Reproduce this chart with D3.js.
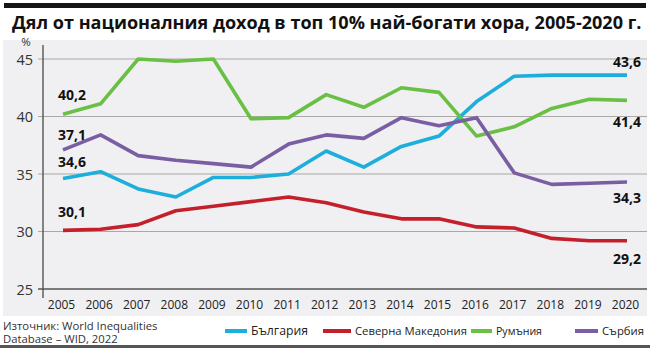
<!DOCTYPE html>
<html><head><meta charset="utf-8">
<script src="https://cdn.jsdelivr.net/npm/d3@7/dist/d3.min.js"></script>
<style>
html,body{margin:0;padding:0;background:#fff;}
svg{display:block;font-family:"Open Sans","Noto Sans",sans-serif;}
</style></head>
<body>
<svg id="c" width="650" height="349"></svg>
<script>
const years = [2005,2006,2007,2008,2009,2010,2011,2012,2013,2014,2015,2016,2017,2018,2019,2020];
const bulgaria  = [34.6,35.2,33.7,33.0,34.7,34.7,35.0,37.0,35.6,37.4,38.3,41.3,43.5,43.6,43.6,43.6];
const macedonia = [30.1,30.2,30.6,31.8,32.2,32.6,33.0,32.5,31.7,31.1,31.1,30.4,30.3,29.4,29.2,29.2];
const romania   = [40.2,41.1,45.0,44.8,45.0,39.8,39.9,41.9,40.8,42.5,42.1,38.3,39.1,40.7,41.5,41.4];
const serbia    = [37.1,38.4,36.6,36.2,35.9,35.6,37.6,38.4,38.1,39.9,39.2,39.9,35.1,34.1,34.2,34.3];
const yTicks = [25,30,35,40,45];
const seriesNames = ["България","Северна Македония","Румъния","Сърбия"];
const seriesColors = ["#1eaedb","#c4202b","#6abf45","#7a5ea3"];
const title = "Дял от националния доход в топ 10% най-богати хора, 2005-2020 г.";
const sourceLines = ["Източник: World Inequalities","Database – WID, 2022"];

const series = [bulgaria, macedonia, romania, serbia];
const svg = d3.select("#c");

function fit(sel, size, w){
  sel.attr("font-size", size);
  const cw = sel.node().getComputedTextLength();
  if (cw > w) sel.attr("font-size", size*w/cw);
  return sel;
}

// frame
svg.append("rect").attr("x",4).attr("y",3).attr("width",642).attr("height",5).attr("fill","#151515");
const t = svg.append("text").attr("x",12).attr("y",28.5).attr("font-weight",700).attr("font-size",19)
  .attr("fill","#111").text(title);
const tw = t.node().getComputedTextLength();
t.attr("font-size", 19*630/tw);
svg.append("rect").attr("x",3).attr("y",40).attr("width",644).attr("height",276).attr("fill","#f0f0f2");
svg.append("rect").attr("x",0).attr("y",345).attr("width",650).attr("height",3).attr("fill","#555");

const x = d3.scalePoint().domain(years).range([63,627]);
const y = d3.scaleLinear().domain([25,45]).range([289,59]);

// grid
svg.append("g").selectAll("line").data(yTicks).join("line")
  .attr("x1",38).attr("x2",647)
  .attr("y1",d=>y(d)).attr("y2",d=>y(d))
  .attr("stroke",d=>d===25?"#555":"#a8a8a8").attr("stroke-width",d=>d===25?1.6:1.2);
svg.append("line").attr("x1",43).attr("x2",43).attr("y1",45).attr("y2",298).attr("stroke","#555").attr("stroke-width",1.4);

// y labels
const yAxis = d3.axisLeft(y).tickValues(yTicks).tickSize(0).tickPadding(0);
const gy = svg.append("g").attr("transform","translate(33,0)").call(yAxis);
gy.select(".domain").remove();
gy.selectAll("text").attr("font-size",14.5).attr("fill","#333").attr("font-family","'Open Sans',sans-serif").attr("dy","0.36em");
svg.append("text").attr("x",26).attr("y",45.5).attr("text-anchor","middle").attr("font-size",11.5).attr("fill","#333").text("%");

// x labels
const xAxis = d3.axisBottom(x).tickSize(0).tickPadding(0);
const gx = svg.append("g").attr("transform","translate(-2,300)").call(xAxis);
gx.select(".domain").remove();
gx.selectAll("text").attr("font-size",12).attr("fill","#222").attr("font-family","'Open Sans',sans-serif").attr("dy","0.71em");

// lines
const line = d3.line().x((d,i)=>x(years[i])).y(d=>y(d));
svg.append("g").selectAll("path").data(series).join("path")
  .attr("d",d=>line(d)).attr("fill","none")
  .attr("stroke",(d,i)=>seriesColors[i]).attr("stroke-width",3.6)
  .attr("stroke-linejoin","round");

// value labels
const fmt = v => v.toFixed(1).replace(".",",");
const leftOff = [-17,-18,-19,-15];
const rightOff = [-13,18,22,16];
const lab = svg.append("g").attr("font-weight",700).attr("font-size",14).attr("fill","#111");
series.forEach((s,i)=>{
  lab.append("text").attr("x",58).attr("y",y(s[0])+leftOff[i]).attr("dy","0.35em").text(fmt(s[0]));
  lab.append("text").attr("x",641).attr("y",y(s[s.length-1])+rightOff[i]).attr("dy","0.35em")
    .attr("text-anchor","end").text(fmt(s[s.length-1]));
});

// legend
const legX = [[225,251],[323,355],[471,496],[575,602]];
const legW = [57,112,46,42];
const leg = svg.append("g");
seriesNames.forEach((n,i)=>{
  leg.append("line").attr("x1",legX[i][0]).attr("x2",legX[i][1]-4).attr("y1",331).attr("y2",331)
    .attr("stroke",seriesColors[i]).attr("stroke-width",4);
  const tx = leg.append("text").attr("x",legX[i][1]).attr("y",331).attr("dy","0.35em")
    .attr("fill","#222").text(n);
  fit(tx, 13, legW[i]);
});

// source
const src = svg.append("g").attr("fill","#333");
sourceLines.forEach((l,i)=>{
  const tx = src.append("text").attr("x",3).attr("y",329.5+i*13.5).text(l);
  fit(tx, 11.3, i===0?170:120);
});
</script>
</body></html>
